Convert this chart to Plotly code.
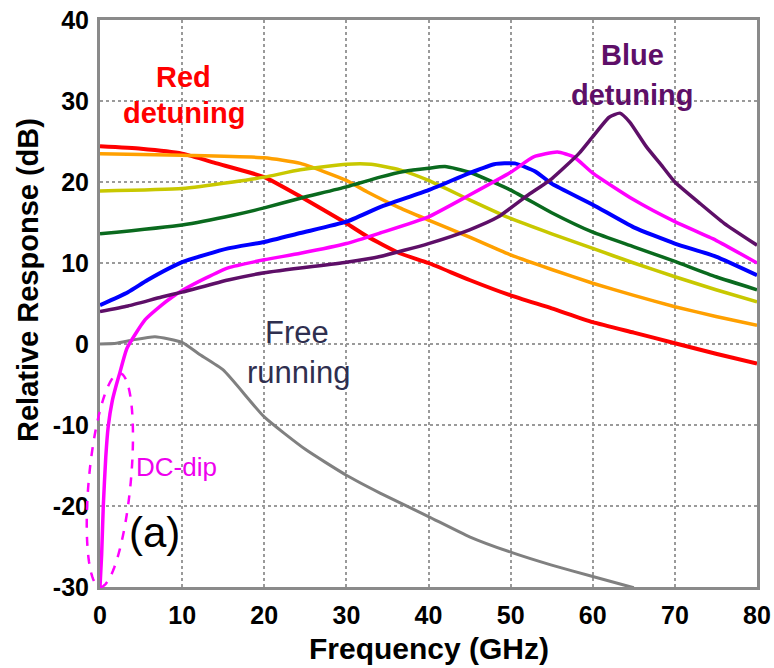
import numpy as np
import plotly.graph_objects as go

# ---------------- data ----------------
red_x = [0, 5, 10, 14.2, 20, 24.4, 30, 32.5, 36.5, 40, 45, 50, 55, 60, 65, 70, 75, 80]
red_y = [24.4, 24.1, 23.5, 22.3, 20.6, 18.2, 14.9, 13.3, 11.2, 10.0, 7.9, 6.0, 4.4, 2.7, 1.4, 0.1, -1.2, -2.4]

orange_x = [0, 10, 20, 24.4, 30, 32.5, 36.5, 40, 45, 50, 55, 60, 65, 70, 75, 80]
orange_y = [23.5, 23.3, 23.0, 22.3, 20.2, 18.8, 16.8, 15.3, 13.2, 11.0, 9.2, 7.5, 6.0, 4.6, 3.4, 2.3]

yellow_x = [0, 10, 16.2, 20, 24.4, 30, 33, 36.5, 40, 45, 50, 55, 60, 65, 70, 75, 80]
yellow_y = [18.9, 19.2, 20.0, 20.6, 21.5, 22.2, 22.2, 21.5, 20.2, 17.8, 15.5, 13.6, 11.8, 10.0, 8.3, 6.7, 5.2]

green_x = [0, 10, 16.2, 20, 24.4, 30, 34.1, 37, 40, 42, 45, 50, 55, 60, 65, 70, 75, 80]
green_y = [13.6, 14.7, 15.9, 16.8, 18.0, 19.4, 20.6, 21.3, 21.7, 21.9, 21.2, 19.0, 16.2, 13.8, 12.0, 10.2, 8.3, 6.7]

blue_x = [0, 3.4, 5.8, 10, 15.6, 20, 24.4, 30, 34.1, 40, 45, 48, 50.5, 53, 55, 60, 65, 70, 75, 80]
blue_y = [4.8, 6.4, 7.9, 10.1, 11.8, 12.6, 13.7, 15.1, 16.9, 19.0, 21.1, 22.2, 22.3, 21.3, 19.8, 17.2, 14.4, 12.4, 10.8, 8.5]

magenta_x = [0, 0.2, 0.4, 0.7, 1.0, 1.5, 2.0, 2.4, 3.3, 5.5, 7.5, 8.8, 10, 12.8, 15.6, 20, 24.4, 30, 34.1, 40, 45, 50, 52.8, 55.7, 57.7, 60, 65, 70, 75, 80]
magenta_y = [-30, -26, -20, -14, -10.2, -7.0, -5.0, -3.6, -0.5, 3.0, 4.8, 5.8, 6.6, 8.1, 9.4, 10.4, 11.2, 12.4, 13.7, 15.7, 18.4, 21.2, 23.1, 23.7, 23.1, 21.1, 17.8, 15.1, 12.8, 10.0]

purple_x = [0, 3.4, 7.5, 10, 15.6, 20, 30, 34.1, 40, 45, 48.5, 52, 55, 58.3, 60, 62, 63.3, 64.5, 66.5, 68.5, 70, 73, 76, 80]
purple_y = [4.0, 4.7, 5.8, 6.4, 7.9, 8.8, 10.1, 10.8, 12.4, 14.1, 15.7, 18.3, 20.4, 23.5, 25.6, 28.0, 28.5, 27.4, 24.4, 21.9, 20.0, 17.4, 14.9, 12.2]

gray_x = [0, 2, 4, 6.7, 10, 12, 15, 20, 25, 30, 34.1, 40, 45, 50, 55, 60, 65]
gray_y = [0.0, 0.1, 0.5, 0.9, 0.2, -1.2, -3.2, -9.0, -13.0, -16.2, -18.4, -21.3, -23.8, -25.7, -27.3, -28.7, -30.1]

series = [
    ("gray", gray_x, gray_y, "#808080", 3),
    ("red", red_x, red_y, "#ff0000", 4),
    ("orange", orange_x, orange_y, "#ffa000", 3.5),
    ("yellow", yellow_x, yellow_y, "#c8c800", 3.5),
    ("green", green_x, green_y, "#0a6a1e", 3.5),
    ("blue", blue_x, blue_y, "#0000ff", 4),
    ("magenta", magenta_x, magenta_y, "#ff00ff", 3.5),
    ("purple", purple_x, purple_y, "#5e0f68", 3.5),
]

x_ticks = [0, 10, 20, 30, 40, 50, 60, 70, 80]
y_ticks = [-30, -20, -10, 0, 10, 20, 30, 40]

X_RANGE = [0, 80]
Y_RANGE = [-30, 40]

# layout geometry (pixels)
W, H = 774, 668
ML, MR, MT, MB = 100, 17, 20, 81
PW, PH = W - ML - MR, H - MT - MB

fig = go.Figure()
for name, xs, ys, col, lw in series:
    fig.add_trace(go.Scatter(x=xs, y=ys, mode="lines", name=name,
                             line=dict(color=col, width=lw, shape="spline", smoothing=0.5),
                             showlegend=False, hoverinfo="skip"))

# DC-dip dashed ellipse (pixel-space ellipse, converted to paper coords so it is not clipped)
def d2px(x, y):
    px = ML + (x - X_RANGE[0]) / (X_RANGE[1] - X_RANGE[0]) * PW
    py = MT + (Y_RANGE[1] - y) / (Y_RANGE[1] - Y_RANGE[0]) * PH
    return px, py

ell_top = d2px(2.4, -3.6)
ell_bot = d2px(0.0, -30.0)
cx, cy = (ell_top[0] + ell_bot[0]) / 2, (ell_top[1] + ell_bot[1]) / 2
ux, uy = ell_top[0] - ell_bot[0], ell_top[1] - ell_bot[1]
a = np.hypot(ux, uy) / 2
ux, uy = ux / (2 * a), uy / (2 * a)
vx, vy = -uy, ux
b = 21
t = np.linspace(0, 2 * np.pi, 121)
ex = cx + a * np.cos(t) * ux + b * np.sin(t) * vx
ey = cy + a * np.cos(t) * uy + b * np.sin(t) * vy
path = "M " + " L ".join(f"{(X - ML) / PW:.5f},{(MT + PH - Y) / PH:.5f}" for X, Y in zip(ex, ey)) + " Z"
fig.add_shape(type="path", path=path, xref="paper", yref="paper",
              line=dict(color="#ff00ff", width=2.5, dash="dash"), layer="above")

FONT = "Liberation Sans, Arial, sans-serif"

def label(txt, x, y, color, size, bold=False):
    fig.add_annotation(x=x, y=y, xref="x", yref="y", text=(f"<b>{txt}</b>" if bold else txt),
                       showarrow=False, font=dict(family=FONT, size=size, color=color),
                       xanchor="center", yanchor="middle")

label("Red", 10.2, 33.0, "#ff0000", 29, bold=True)
label("detuning", 10.2, 28.5, "#ff0000", 29, bold=True)
label("Blue", 64.8, 35.7, "#5e0f68", 29, bold=True)
label("detuning", 64.8, 30.7, "#5e0f68", 29, bold=True)
label("Free", 24.0, 1.4, "#2f2f4f", 31)
label("running", 24.2, -3.5, "#2f2f4f", 31)
label("DC-dip", 9.3, -15.2, "#ee00ee", 26)
label("(a)", 6.6, -23.3, "#000000", 42)

# axis titles
fig.add_annotation(text="<b>Frequency (GHz)</b>", x=0.5, y=(MT + PH - 648) / PH, xref="paper", yref="paper",
                   showarrow=False, font=dict(family=FONT, size=30, color="#000"),
                   xanchor="center", yanchor="middle")
fig.add_annotation(text="<b>Relative Response (dB)</b>", x=(28 - ML) / PW, y=(MT + PH - 280) / PH,
                   xref="paper", yref="paper", textangle=-90,
                   showarrow=False, font=dict(family=FONT, size=29, color="#000"),
                   xanchor="center", yanchor="middle")

axis_common = dict(showline=True, linecolor="#8a8a8a", linewidth=3, mirror=True,
                   showgrid=True, gridcolor="#9a9a9a", gridwidth=1.5, griddash="dot",
                   zeroline=False, ticks="", automargin=False,
                   tickfont=dict(family=FONT, size=25, color="#000", weight="bold"))

fig.update_xaxes(range=X_RANGE, tickvals=x_ticks, ticktext=[str(v) for v in x_ticks],
                 ticklabelstandoff=4, **axis_common)
fig.update_yaxes(range=Y_RANGE, tickvals=y_ticks, ticktext=[str(v) for v in y_ticks],
                 ticklabelstandoff=3, **axis_common)

fig.update_layout(width=W, height=H, margin=dict(l=ML, r=MR, t=MT, b=MB),
                  paper_bgcolor="white", plot_bgcolor="white", showlegend=False)

fig.write_html("out.html")
